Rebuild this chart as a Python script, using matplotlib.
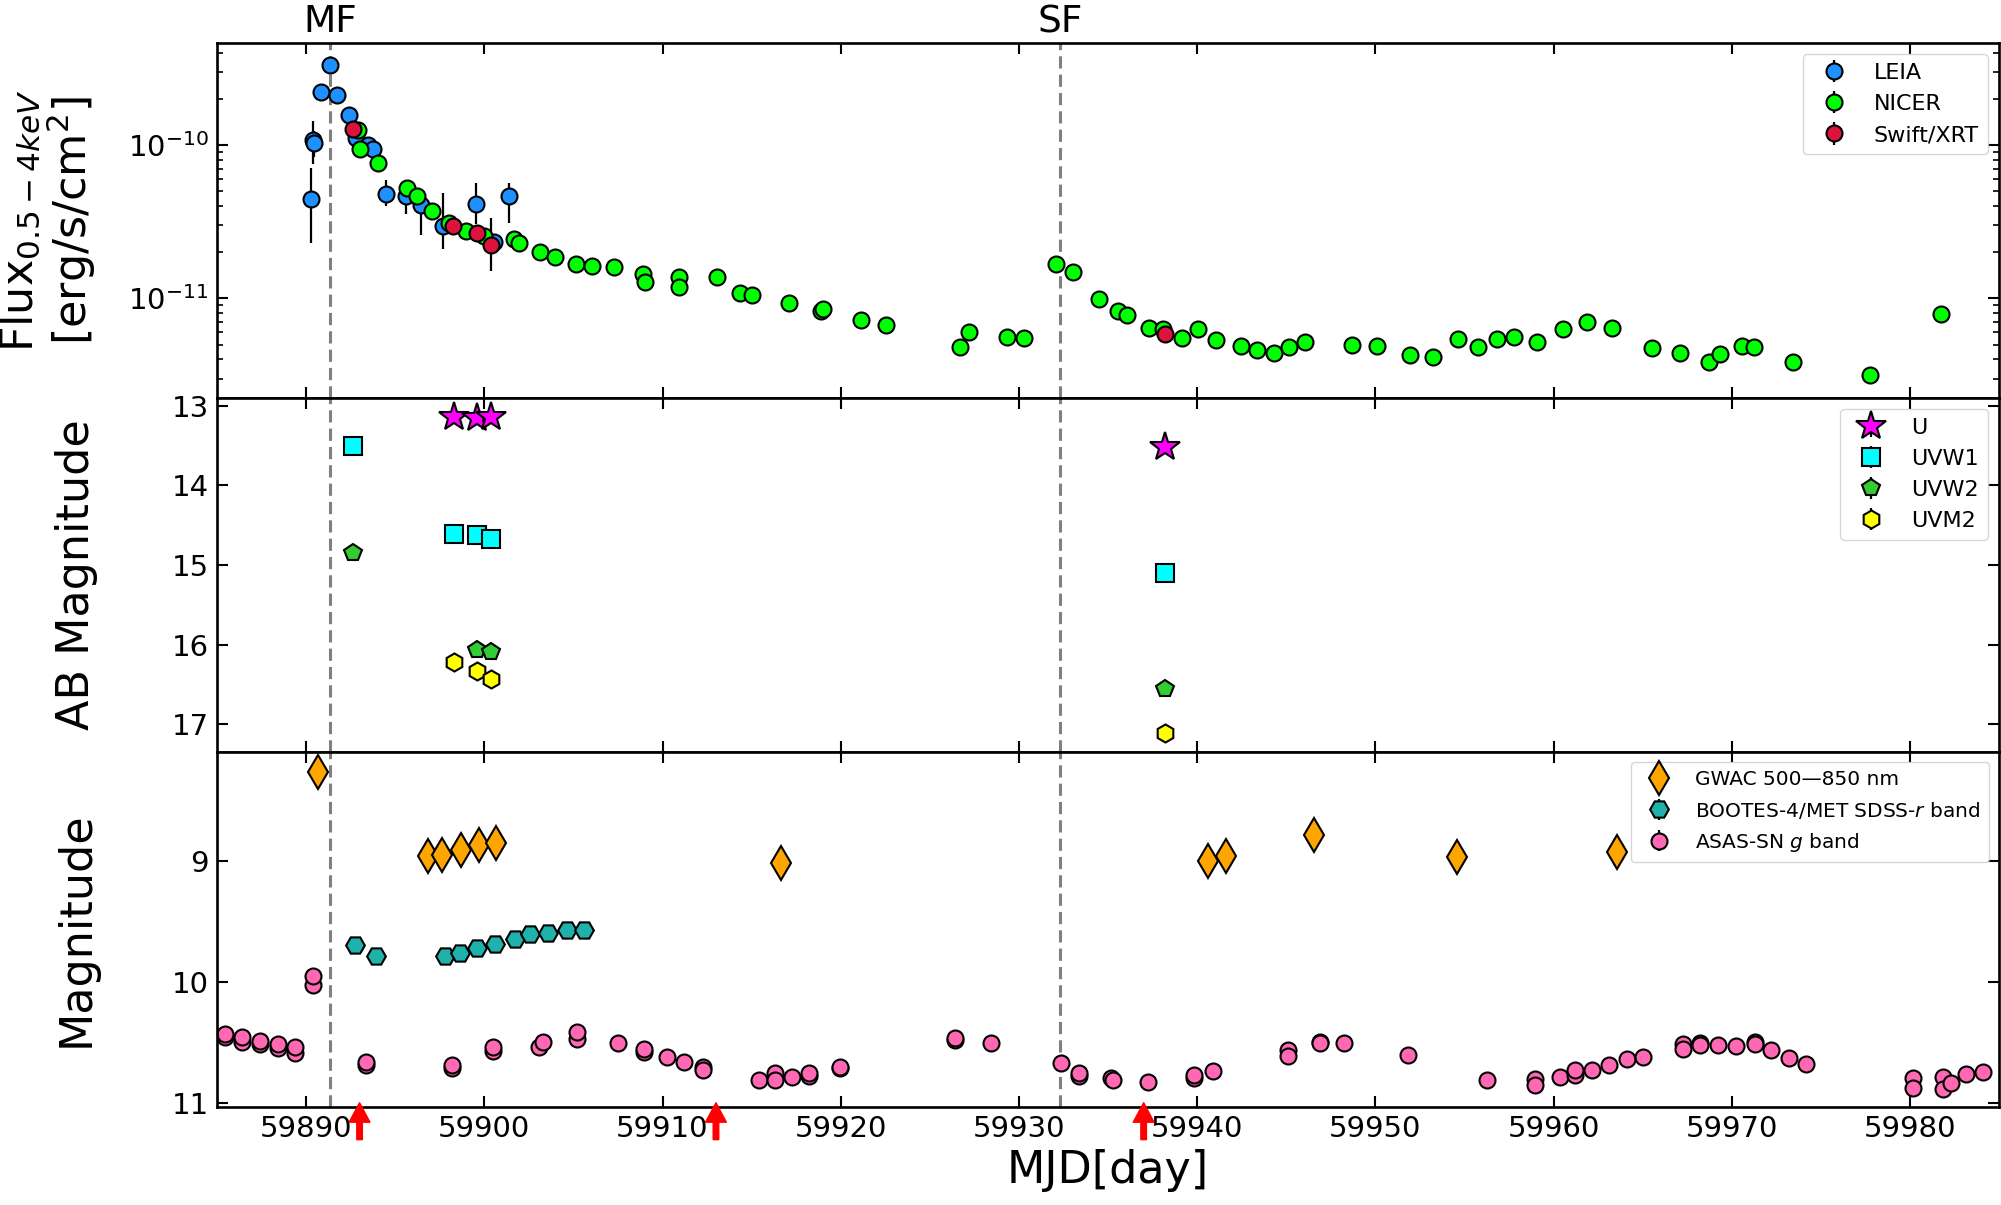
import matplotlib
matplotlib.use("Agg")
import matplotlib.pyplot as plt
import matplotlib.transforms as mtransforms
from matplotlib.ticker import NullFormatter, LogLocator

# ---------------- data ----------------
# X-ray flux (0.5-4 keV)
leia_day = [59890.28, 59890.37, 59890.47, 59890.84, 59891.36, 59891.74, 59892.43, 59892.80,
            59893.50, 59893.74, 59894.49, 59895.60, 59896.45, 59897.67, 59899.54, 59900.57, 59901.37]
leia_flux = [4.43e-11, 1.09e-10, 1.04e-10, 2.22e-10, 3.36e-10, 2.14e-10, 1.57e-10, 1.12e-10,
             1.01e-10, 9.4e-11, 4.82e-11, 4.65e-11, 4.10e-11, 2.96e-11, 4.15e-11, 2.33e-11, 4.65e-11]
leia_err_lo = [2.12e-11, 3.4e-11, 2.0e-11, 1.5e-11, 2.0e-11, 1.5e-11, 1.0e-11, 1.0e-11,
               8e-12, 8e-12, 8e-12, 1.1e-11, 1.5e-11, 0.87e-11, 1.1e-11, 3e-12, 1.55e-11]
leia_err_hi = [2.7e-11, 3.5e-11, 2.0e-11, 1.5e-11, 2.0e-11, 1.5e-11, 1.0e-11, 1.0e-11,
               8e-12, 8e-12, 1.1e-11, 0.8e-11, 1.0e-11, 1.94e-11, 1.55e-11, 3e-12, 1.04e-11]

nicer_day = [59892.90, 59893.03, 59894.02, 59895.65, 59896.20, 59897.07, 59898.04, 59899.00,
             59900.00, 59901.69, 59901.97, 59903.10, 59903.98, 59905.15, 59906.05, 59907.30,
             59908.88, 59909.03, 59910.93, 59910.93, 59913.06, 59914.34, 59915.04, 59917.09,
             59918.90, 59919.02, 59921.15, 59922.53, 59926.72, 59927.22, 59929.35, 59930.30,
             59932.06, 59933.06, 59934.49, 59935.54, 59936.09, 59937.32, 59938.07, 59939.15,
             59940.03, 59941.08, 59942.48, 59943.38, 59944.34, 59945.14, 59946.07, 59948.67,
             59950.08, 59951.95, 59953.21, 59954.66, 59955.76, 59956.84, 59957.77, 59959.05,
             59960.55, 59961.90, 59963.31, 59965.51, 59967.09, 59968.70, 59969.35, 59970.55,
             59971.23, 59973.46, 59977.74, 59981.73]
nicer_flux = [1.26e-10, 9.5e-11, 7.67e-11, 5.27e-11, 4.65e-11, 3.75e-11, 3.11e-11, 2.77e-11,
              2.55e-11, 2.43e-11, 2.29e-11, 2.01e-11, 1.86e-11, 1.68e-11, 1.64e-11, 1.60e-11,
              1.45e-11, 1.28e-11, 1.38e-11, 1.19e-11, 1.38e-11, 1.09e-11, 1.06e-11, 9.37e-12,
              8.26e-12, 8.57e-12, 7.19e-12, 6.70e-12, 4.84e-12, 6.03e-12, 5.60e-12, 5.54e-12,
              1.67e-11, 1.49e-11, 9.85e-12, 8.26e-12, 7.78e-12, 6.44e-12, 6.28e-12, 5.54e-12,
              6.34e-12, 5.35e-12, 4.93e-12, 4.64e-12, 4.42e-12, 4.82e-12, 5.21e-12, 4.99e-12,
              4.89e-12, 4.27e-12, 4.14e-12, 5.45e-12, 4.82e-12, 5.40e-12, 5.60e-12, 5.21e-12,
              6.28e-12, 7.05e-12, 6.44e-12, 4.72e-12, 4.38e-12, 3.84e-12, 4.31e-12, 4.89e-12,
              4.84e-12, 3.84e-12, 3.15e-12, 7.87e-12]

xrt_day = [59892.62, 59898.23, 59899.60, 59900.38, 59938.22]
xrt_flux = [1.28e-10, 2.99e-11, 2.69e-11, 2.25e-11, 5.82e-12]
xrt_err_lo = [5e-12, 2e-12, 2e-12, 0.74e-11, 4e-13]
xrt_err_hi = [5e-12, 2e-12, 2e-12, 1.1e-11, 4e-13]

# Swift/UVOT AB magnitudes
u_day = [59898.28, 59899.58, 59900.38, 59938.19]
u_mag = [13.146, 13.150, 13.140, 13.515]
uvw1_day = [59892.63, 59898.28, 59899.58, 59900.38, 59938.19]
uvw1_mag = [13.51, 14.615, 14.62, 14.67, 15.105]
uvw2_day = [59892.63, 59899.58, 59900.38, 59938.19]
uvw2_mag = [14.845, 16.067, 16.09, 16.556]
uvm2_day = [59898.28, 59899.58, 59900.38, 59938.19]
uvm2_mag = [16.22, 16.33, 16.43, 17.105]

# Optical magnitudes
gwac_day = [59890.68, 59896.85, 59897.65, 59898.68, 59899.73, 59900.65, 59916.67,
            59940.60, 59941.60, 59946.54, 59954.59, 59963.56]
gwac_mag = [8.266, 8.953, 8.945, 8.904, 8.865, 8.849, 9.016, 8.995, 8.959, 8.783, 8.967, 8.926]

bootes_day = [59892.75, 59893.90, 59897.78, 59898.63, 59899.60, 59900.60, 59901.73,
              59902.55, 59903.60, 59904.63, 59905.60]
bootes_mag = [9.695, 9.786, 9.786, 9.755, 9.714, 9.687, 9.646, 9.604, 9.593, 9.571, 9.566]

asas_day = [59885.43, 59885.43, 59886.38, 59886.38, 59887.40, 59887.40, 59888.40, 59888.40,
            59889.40, 59889.40, 59890.40, 59890.40, 59893.38, 59893.38, 59898.18, 59898.18,
            59900.48, 59900.48, 59903.05, 59903.28, 59905.23, 59905.23, 59907.48, 59908.98,
            59908.98, 59910.25, 59911.23, 59912.26, 59912.26, 59915.39, 59916.32, 59916.32,
            59917.24, 59918.22, 59918.22, 59919.97, 59919.97, 59926.42, 59926.42, 59928.42,
            59932.36, 59933.36, 59933.36, 59935.19, 59935.30, 59937.24, 59939.80, 59939.80,
            59940.88, 59945.09, 59945.09, 59946.87, 59946.87, 59948.27, 59951.83, 59956.27,
            59958.97, 59958.97, 59960.35, 59961.23, 59961.23, 59962.18, 59963.11, 59964.11,
            59965.04, 59967.24, 59967.29, 59968.24, 59968.24, 59969.22, 59970.22, 59971.30,
            59971.30, 59972.18, 59973.23, 59974.19, 59980.15, 59980.15, 59981.85, 59981.85,
            59982.28, 59983.13, 59984.08]
asas_mag = [10.45, 10.423, 10.49, 10.45, 10.51, 10.486, 10.545, 10.511,
            10.58, 10.538, 10.025, 9.95, 10.684, 10.657, 10.71, 10.684,
            10.57, 10.538, 10.533, 10.49, 10.47, 10.41, 10.505, 10.575,
            10.547, 10.615, 10.657, 10.70, 10.725, 10.808, 10.753, 10.808,
            10.78, 10.77, 10.753, 10.71, 10.698, 10.475, 10.46, 10.50,
            10.67, 10.775, 10.747, 10.79, 10.81, 10.82, 10.79, 10.766,
            10.734, 10.56, 10.61, 10.49, 10.505, 10.50, 10.60, 10.81,
            10.80, 10.846, 10.783, 10.766, 10.723, 10.723, 10.684, 10.635,
            10.62, 10.511, 10.547, 10.50, 10.52, 10.52, 10.525, 10.49,
            10.51, 10.555, 10.629, 10.676, 10.794, 10.876, 10.78, 10.885,
            10.835, 10.761, 10.739]

# Event markers
mf_day = 59891.33
sf_day = 59932.30
arrow_days = [59893.0, 59913.0, 59937.0]
xticks = [59890, 59900, 59910, 59920, 59930, 59940, 59950, 59960, 59970, 59980]

# ---------------- figure ----------------
W, H = 2001, 1205
fig = plt.figure(figsize=(W / 100, H / 100), dpi=100)
left, right = 217 / W, 1999 / W
top, bottom = 1 - 43 / H, 1 - 1107 / H
ph = (top - bottom) / 3
ax1 = fig.add_axes([left, bottom + 2 * ph, right - left, ph])
ax2 = fig.add_axes([left, bottom + ph, right - left, ph], sharex=ax1)
ax3 = fig.add_axes([left, bottom, right - left, ph], sharex=ax1)

ek = dict(ecolor='k', elinewidth=1.6, capsize=0, mec='k', mew=1.5, linestyle='none')

# Top panel
ax1.errorbar(leia_day, leia_flux, yerr=[leia_err_lo, leia_err_hi], fmt='o', mfc='#1E90FF',
             ms=11.5, label='LEIA', **ek)
ax1.errorbar(nicer_day, nicer_flux, yerr=0, fmt='o', mfc='#00FF00', ms=11.5, label='NICER', **ek)
ax1.errorbar(xrt_day, xrt_flux, yerr=[xrt_err_lo, xrt_err_hi], fmt='o', mfc='#DC143C',
             ms=11.5, label='Swift/XRT', **ek)
ax1.set_yscale('log')
ax1.set_ylim(2.25e-12, 4.66e-10)
ax1.yaxis.set_minor_locator(LogLocator(base=10, subs=range(2, 10)))
ax1.yaxis.set_minor_formatter(NullFormatter())
ax1.set_ylabel('Flux$_{0.5-4keV}$\n[erg/s/cm$^2$]', fontsize=32, linespacing=1.05)
ax1.legend(loc='upper right', fontsize=16)

# Middle panel
ax2.errorbar(u_day, u_mag, yerr=0, fmt='*', mfc='#FF00FF', ms=22, label='U', **ek)
ax2.errorbar(uvw1_day, uvw1_mag, yerr=0, fmt='s', mfc='#00FFFF', ms=13, label='UVW1', **ek)
ax2.errorbar(uvw2_day, uvw2_mag, yerr=0, fmt='p', mfc='#32CD32', ms=13, label='UVW2', **ek)
ax2.errorbar(uvm2_day, uvm2_mag, yerr=0, fmt='h', mfc='#FFFF00', ms=13, label='UVM2', **ek)
ax2.set_ylim(17.35, 12.9)
ax2.set_yticks([13, 14, 15, 16, 17])
ax2.set_ylabel('AB Magnitude', fontsize=32)
ax2.legend(loc='upper right', fontsize=16)

# Bottom panel
ax3.errorbar(gwac_day, gwac_mag, yerr=0, fmt='d', mfc='#FFA500', ms=17,
             label='GWAC 500\u2014850 nm', **ek)
ax3.errorbar(bootes_day, bootes_mag, yerr=0, fmt='H', mfc='#20B2AA', ms=13.5,
             label='BOOTES-4/MET SDSS-$r$ band', **ek)
ax3.errorbar(asas_day, asas_mag, yerr=0, fmt='o', mfc='#FF69B4', ms=11.5,
             label='ASAS-SN $g$ band', **ek)
ax3.set_ylim(11.03, 8.1)
ax3.set_yticks([9, 10, 11])
ax3.set_ylabel('Magnitude', fontsize=32)
ax3.set_xlabel('MJD[day]', fontsize=32, labelpad=4)
ax3.legend(loc='upper right', fontsize=14.5)

for d in arrow_days:
    ax3.annotate('', xy=(d, 0.012), xytext=(d, -0.092),
                 xycoords=('data', 'axes fraction'), textcoords=('data', 'axes fraction'),
                 annotation_clip=False,
                 arrowprops=dict(facecolor='red', edgecolor='red', width=4, headwidth=15,
                                 headlength=14, shrink=0, clip_on=False))

ax1.set_xlim(59885, 59985)
ax1.set_xticks(xticks)

for ax in (ax1, ax2, ax3):
    ax.axvline(mf_day, color='#808080', ls=(0, (4, 2)), lw=2.2, zorder=0)
    ax.axvline(sf_day, color='#808080', ls=(0, (4, 2)), lw=2.2, zorder=0)
    ax.tick_params(which='both', direction='in', top=True, right=True)
    ax.tick_params(which='major', length=8, width=1.5)
    ax.tick_params(which='minor', length=4.5, width=1.2)
    ax.tick_params(axis='y', labelsize=21, pad=6)
    ax.tick_params(axis='x', labelsize=21, pad=6)
    for s in ax.spines.values():
        s.set_linewidth(1.9)
    ax.yaxis.set_label_coords(-0.067, 0.5)
ax1.tick_params(axis='x', labelbottom=False)
ax2.tick_params(axis='x', labelbottom=False)

tr = mtransforms.blended_transform_factory(ax1.transData, ax1.transAxes)
ax1.text(mf_day, 1.031, 'MF', transform=tr, ha='center', va='baseline', fontsize=27)
ax1.text(sf_day, 1.031, 'SF', transform=tr, ha='center', va='baseline', fontsize=27)

fig.savefig('out.png', dpi=100)
